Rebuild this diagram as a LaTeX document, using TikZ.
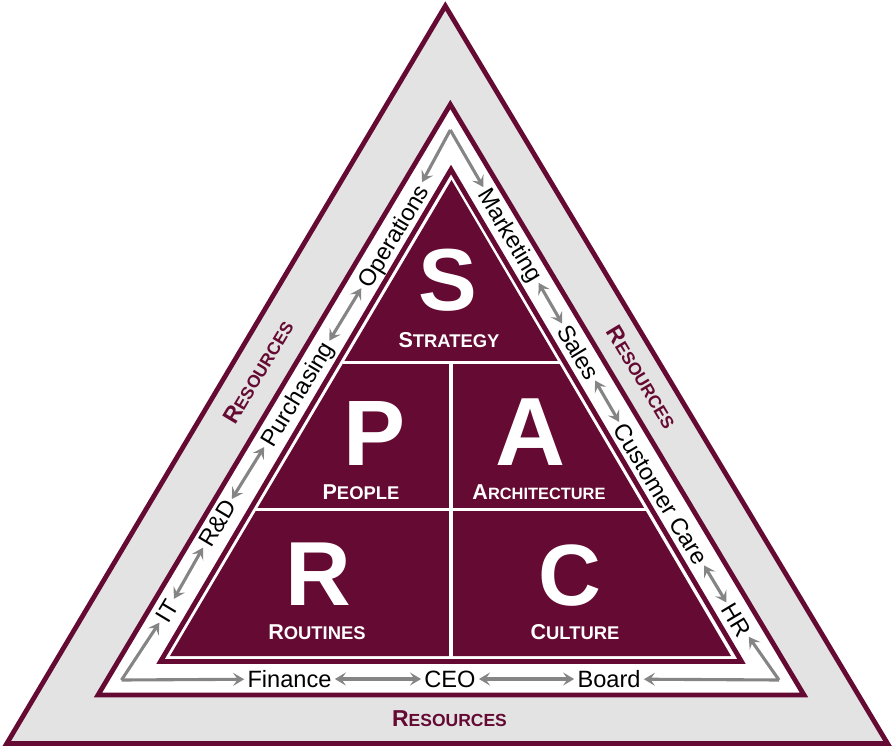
\documentclass[tikz,border=0pt]{standalone}
\usepackage{fontspec}
\setmainfont{Liberation Sans}
\usetikzlibrary{arrows.meta}
\definecolor{sparcred}{HTML}{650A32}
\definecolor{sparcgrey}{HTML}{E3E3E3}
\definecolor{arrowgrey}{HTML}{858585}
\newcommand{\fsize}[1]{\fontsize{#1}{#1}\selectfont}
\newcommand{\smcap}[3][18.4]{{\fsize{21.5}#2}{\fsize{#1}#3}}
\newcommand{\rescap}{{\fsize{23}\bfseries R}{\fsize{17.5}\bfseries ESOURCES}}
\tikzset{
    frame/.style = {draw = sparcred,line width = 4.8pt,line join = miter},
    sidelabel/.style = {font = \fsize{23.6},text height = 17pt,text depth = 0pt,inner sep = 3.2pt},
    bigletter/.style = {text = white,anchor = base,inner sep = 0pt},
    celllabel/.style = {font = \bfseries,text = white,anchor = base,inner sep = 0pt},
    reslabel/.style = {text = sparcred,inner sep = 0pt},
    duplex/.style = {draw = arrowgrey,line width = 3.1pt,{Stealth[length = 11pt,width = 13pt,inset = 4.5pt]}-{Stealth[length = 11pt,width = 13pt,inset = 4.5pt]}},
    simplex/.style = {draw = arrowgrey,line width = 3.1pt,-{Stealth[length = 11pt,width = 13pt,inset = 4.5pt]},line join = miter}
}
\begin{document}
\begin{tikzpicture}[x = 1pt,y = -1pt]
        \useasboundingbox (0,0) rectangle (893,746);
        % triangles
        \draw[frame,fill = sparcgrey] (445.3,6) -- (887.5,743.5) -- (6.8,743.5) -- cycle;
        \draw[frame,fill = white] (450.3,104.5) -- (804,695) -- (98,695) -- cycle;
        \draw[frame,fill = white] (451,169.5) -- (741.5,661.5) -- (160.5,661.5) -- cycle;
        \fill[sparcred] (451.5,180) -- (731,656) -- (170,656) -- cycle;
        \draw[white,line width = 3.5pt] (343,362.5) -- (561,362.5);
        \draw[white,line width = 3.5pt] (256,509.3) -- (648,509.3);
        \draw[white,line width = 3.5pt] (451,362.5) -- (451,657);

        % big letters
        \foreach \x/\y/\s/\name/\txt in {448/310/88/letterS/S,375/465/93/letterP/P,531/465/97/letterA/A,318/605/91/letterR/R,570/605/87/letterC/C}
            \node[bigletter,font = \fsize{\s}\bfseries] (\name) at (\x,\y) {\txt};
        \node[celllabel] (strategy) at (449,347) {\smcap{S}{TRATEGY}};
        \node[celllabel] (people) at (361,499) {\smcap{P}{EOPLE}};
        \node[celllabel] (architecture) at (539,499) {\smcap[16.4]{A}{RCHITECTURE}};
        \node[celllabel] (routines) at (317,639) {\smcap{R}{OUTINES}};
        \node[celllabel] (culture) at (575,639) {\smcap{C}{ULTURE}};

        % resources
        \node[reslabel,anchor = base] (resbottom) at (449.5,726.5) {\rescap};
        \node[reslabel,rotate = 59] (resleft) at (258,372) {\rescap};
        \node[reslabel,rotate = -59] (resright) at (642,377) {\rescap};

        % functions
        \foreach \x/\y/\name/\txt in {289.5/679/finance/Finance,450/679/ceo/CEO,609/679/board/Board}
            \node[sidelabel] (\name) at (\x,\y) {\txt};
        \foreach \x/\y/\name/\txt in {167/611/it/IT,217/523/rnd/R\&D,297/394/purchasing/Purchasing,393/236/operations/Operations}
            \node[sidelabel,rotate = 59] (\name) at (\x,\y) {\txt};
        \foreach \x/\y/\name/\txt in {511/235/marketing/Marketing,578.5/352/sales/Sales,661/494/care/Customer Care,737/620/hr/HR}
            \node[sidelabel,rotate = -59] (\name) at (\x,\y) {\txt};

        \coordinate (cornerleft) at (121.5,680);
        \coordinate (cornerright) at (779,680);
        \coordinate (cornertop) at (450.3,130);

        % arrows
        \foreach \a/\b in {finance/ceo,ceo/board,it/rnd,rnd/purchasing,purchasing/operations,marketing/sales,sales/care,care/hr}
            \draw[duplex] (\a) -- (\b);
        \draw[simplex] (cornerleft) -- (finance);
        \draw[simplex] (cornerleft) -- (it);
        \draw[simplex] (cornerright) -- (board);
        \draw[simplex] (cornerright) -- (hr);
        \draw[simplex] (cornertop) -- (operations);
        \draw[simplex] (cornertop) -- (marketing);
    \end{tikzpicture}
\end{document}
